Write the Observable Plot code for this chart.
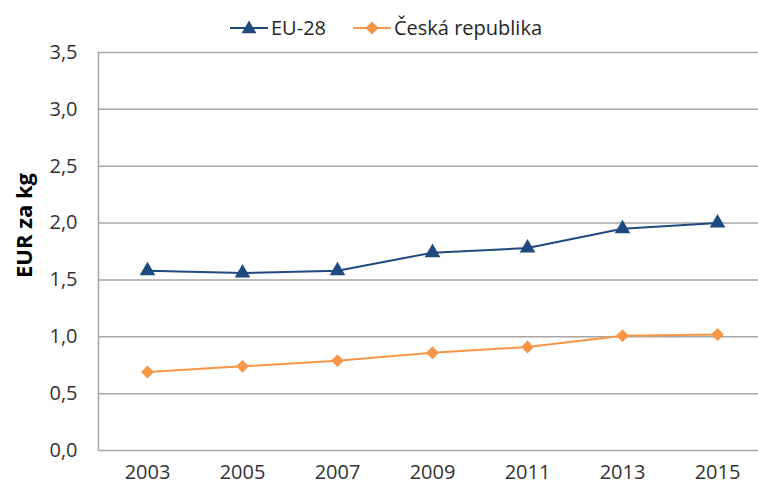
<!DOCTYPE html>
<html><head><meta charset="utf-8">
<script src="https://cdn.jsdelivr.net/npm/d3@7"></script>
<script src="https://cdn.jsdelivr.net/npm/@observablehq/plot@0.6"></script>
<style>
body{margin:0;background:#fff;font-family:"Open Sans",sans-serif;}
#legend{height:30px;position:relative;font-size:20px;color:#262626}
#legend .item{position:absolute;top:14px;display:flex;align-items:center;gap:3px;line-height:28px;height:28px}
#chart{position:relative;z-index:0}
</style></head><body>
<div id="legend"></div>
<div id="chart"></div>
<script>
const years = [2003, 2005, 2007, 2009, 2011, 2013, 2015];
const eu28 = [1.58, 1.56, 1.58, 1.74, 1.78, 1.95, 2.0];
const cz = [0.69, 0.74, 0.79, 0.86, 0.91, 1.01, 1.02];
const series = ["EU-28", "Česká republika"];
const colors = ["#1f4a7f", "#f79646"];
const symbols = ["triangle", "diamond2"];
const yTicks = [0, 0.5, 1, 1.5, 2, 2.5, 3, 3.5];

const data = [
  ...years.map((y, i) => ({year: y, value: eu28[i], s: series[0]})),
  ...years.map((y, i) => ({year: y, value: cz[i], s: series[1]}))
];
const fmt = d => d.toFixed(1).replace(".", ",");

const plot = Plot.plot({
  width: 758, height: 461,
  marginLeft: 98, marginRight: 0, marginTop: 22, marginBottom: 41,
  style: {fontFamily: "'Open Sans', sans-serif", fontSize: "20px", color: "#333", background: "transparent"},
  x: {domain: [2003, 2015], range: [147, 717], label: null},
  y: {domain: [0, 3.5], label: null},
  color: {domain: series, range: colors},
  symbol: {domain: series, range: symbols},
  marks: [
    Plot.ruleY(yTicks, {stroke: "#a6a6a6", strokeWidth: 1.5}),
    Plot.ruleX([0], {x: () => 2003 - 49 / 47.5, stroke: "#a6a6a6", strokeWidth: 1.5}),
    Plot.axisX({ticks: years, tickFormat: d => String(d), tickSize: 0, tickPadding: 14, fill: "#333", fontSize: 20, label: null}),
    Plot.axisY({ticks: yTicks, tickFormat: fmt, tickSize: 0, tickPadding: 21, fill: "#333", fontSize: 20, label: null}),
    Plot.line(data, {x: "year", y: "value", stroke: "s", strokeWidth: 2}),
    Plot.dot(data, {x: "year", y: "value", fill: "s", symbol: "s", r: 5.8, stroke: "none"}),
    Plot.text(["EUR za kg"], {frameAnchor: "left", textAnchor: "middle", dx: -74, dy: -26, rotate: -90, fontWeight: "bold", fontSize: 22, fill: "#000"})
  ]
});
document.getElementById("chart").append(plot);

const legend = document.getElementById("legend");
const lefts = [230, 353];
series.forEach((s, i) => {
  const sp = document.createElement("div");
  sp.className = "item";
  sp.style.left = lefts[i] + "px";
  const sym = i === 0 ? d3.symbol(d3.symbolTriangle, 95)() : d3.symbol(d3.symbolDiamond2, 110)();
  sp.innerHTML = `<svg width="38" height="16"><line x1="0" x2="38" y1="8" y2="8" stroke="${colors[i]}" stroke-width="2"/><path d="${sym}" transform="translate(19,${i===0?9:8})" fill="${colors[i]}"/></svg><span>${s}</span>`;
  legend.append(sp);
});
</script>
</body></html>
